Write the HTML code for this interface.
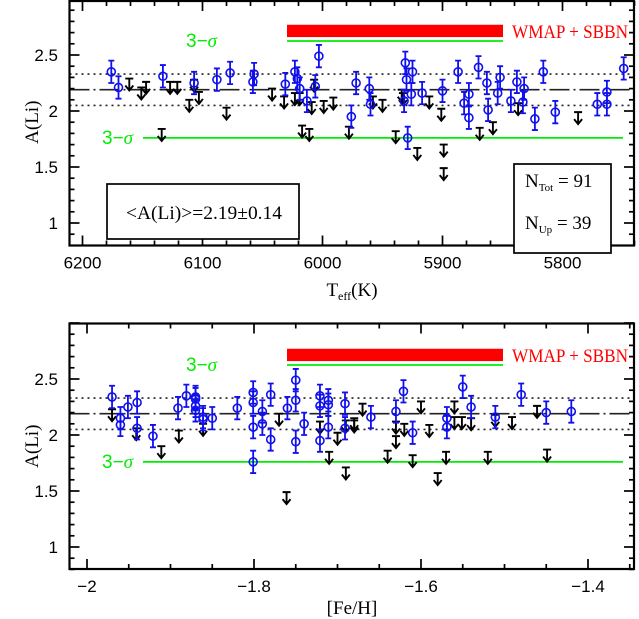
<!DOCTYPE html>
<html><head><meta charset="utf-8">
<style>
html,body{margin:0;padding:0;background:#fff;}
svg{display:block;}
text{font-family:"Liberation Sans",sans-serif;}
.serif{font-family:"Liberation Serif",serif;}
</style></head>
<body>
<svg id="chart" width="639" height="619" viewBox="0 0 639 619" xmlns="http://www.w3.org/2000/svg"></svg>
<script>
// ---- Top panel data (Teff vs A(Li)) ----
const topDetT = [6176,6170,6133,6107,6088,6077,6058,6057,6031,6023,6021,6019,6013,6006,6003,5976,5972,5961,5960,5932,5931,5930,5926,5925,5917,5929,5900,5887,5882,5878,5878,5870,5863,5862,5854,5852,5843,5838,5833,5832,5823,5816,5806,5771,5763,5763,5749];
const topDetA = [2.35,2.21,2.31,2.25,2.28,2.34,2.26,2.33,2.24,2.35,2.29,2.20,2.09,2.22,2.49,1.95,2.25,2.20,2.06,2.09,2.43,2.28,2.15,2.35,2.16,1.76,2.18,2.35,2.07,2.15,1.94,2.39,2.25,2.01,2.16,2.30,2.09,2.26,2.08,2.20,1.93,2.35,1.99,2.06,2.17,2.06,2.38];
const topUlT = [6161,6151,6147,6127,6121,6107,6103,6111,6080,6134,6042,6032,6023,6019,6017,6011,6009,5999,5991,6007,5978,5958,5950,5939,5934,5933,5921,5911,5901,5899,5899,5869,5858,5837,5787];
const topUlA = [2.29,2.21,2.26,2.26,2.26,2.28,2.17,2.10,2.03,1.84,2.20,2.13,2.16,2.16,1.87,1.84,2.08,2.09,2.12,2.28,1.86,2.13,2.10,1.82,2.19,2.16,1.67,2.13,2.02,1.70,1.49,1.85,1.90,2.07,1.99];
const topXTicks = [6200,6100,6000,5900,5800];
// ---- Bottom panel data ([Fe/H] vs A(Li)) ----
const botDetFe = [-1.970,-1.960,-1.960,-1.951,-1.940,-1.940,-1.921,-1.891,-1.881,-1.870,-1.870,-1.870,-1.870,-1.861,-1.861,-1.850,-1.820,-1.801,-1.801,-1.801,-1.801,-1.790,-1.790,-1.780,-1.780,-1.760,-1.750,-1.750,-1.750,-1.740,-1.721,-1.721,-1.721,-1.711,-1.711,-1.711,-1.691,-1.691,-1.660,-1.630,-1.621,-1.610,-1.569,-1.569,-1.550,-1.540,-1.511,-1.480,-1.450,-1.420];
const botDetA = [2.34,2.15,2.09,2.25,2.29,2.06,1.99,2.24,2.35,2.34,2.32,2.26,2.22,2.16,2.14,2.15,2.24,2.38,2.29,2.07,1.76,2.21,2.10,2.36,1.96,2.24,2.49,2.31,1.94,2.10,2.35,2.26,1.95,2.31,2.27,2.07,2.28,2.06,2.16,2.21,2.39,2.02,2.15,2.07,2.43,2.25,2.16,2.36,2.20,2.21];
const botUlFe = [-1.970,-1.941,-1.911,-1.890,-1.861,-1.770,-1.761,-1.721,-1.710,-1.700,-1.690,-1.690,-1.680,-1.680,-1.670,-1.640,-1.630,-1.630,-1.620,-1.610,-1.600,-1.590,-1.580,-1.570,-1.560,-1.560,-1.551,-1.540,-1.520,-1.511,-1.491,-1.461,-1.449];
const botUlA = [2.23,2.06,1.90,2.04,2.10,2.19,1.49,2.12,1.85,2.02,1.71,2.13,2.15,2.13,2.28,1.86,2.12,1.99,2.10,1.82,2.30,2.09,1.66,1.85,2.30,2.16,2.16,2.15,1.85,2.18,2.16,2.26,1.87];
const botXTicks = [-2,-1.8,-1.6,-1.4];
const yTickLabels = [1,1.5,2,2.5];
const meanA = 2.19, sigA = 0.14, errA = 0.1;
const lowSigma = 1.76, wmapLo = 2.66, wmapHi = 2.77, upSigma = 2.625;

const NS = "http://www.w3.org/2000/svg";
const svg = document.getElementById('chart');
function el(tag, attrs, parent, txt){
  const e = document.createElementNS(NS, tag);
  for (const k in attrs) e.setAttribute(k, attrs[k]);
  if (txt !== undefined) e.textContent = txt;
  (parent||svg).appendChild(e);
  return e;
}

const panels = [
  {name:'teff', x0:69.5, x1:634, y0:1, y1:245.5,
   xs: v => 82.5 + (6200 - v)*1.2, ys: a => 223 - (a-1)*112,
   minorStart:6200, minorEnd:5740, minorStep:-20, majorEvery:100,
   ticks: topXTicks, fmt: v => String(v),
   detX: topDetT, detA: topDetA, ulX: topUlT, ulA: topUlA},
  {name:'feh', x0:69.5, x1:634, y0:323.5, y1:569,
   xs: v => 87 + (v + 2)*835, ys: a => 547 - (a-1)*112,
   minorStart:-2, minorEnd:-1.35, minorStep:0.05, majorEvery:0.2,
   ticks: botXTicks, fmt: v => (v<0?'\u2212':'') + Math.abs(v).toString(),
   detX: botDetFe, detA: botDetA, ulX: botUlFe, ulA: botUlA}
];

panels.forEach((p, pi) => {
  const g = el('g', {}, svg);
  
  
  const L = p.x0, R = p.x1, T = p.y0, B = p.y1;
  const gl = el('g', {}, g);
  
  
  const wx = 287;
  const wm = el('rect', {x:wx, y:p.ys(wmapHi), width:216, height:p.ys(wmapLo)-p.ys(wmapHi), fill:'#ff0000'}, gl);
  
  
  const us = el('line', {x1:wx, x2:503, y1:p.ys(upSigma), y2:p.ys(upSigma), stroke:'#00ee00', 'stroke-width':1.8}, gl);
  
  
  const ls = el('line', {x1:143, x2:623, y1:p.ys(lowSigma), y2:p.ys(lowSigma), stroke:'#00ee00', 'stroke-width':1.8}, gl);
  
  
  const mn = el('line', {x1:L, x2:R, y1:p.ys(meanA), y2:p.ys(meanA), stroke:'#222', 'stroke-width':1.6, 'stroke-dasharray':'20 4 2 4'}, gl);
  
  
  [meanA+sigA, meanA-sigA].forEach(v => {
    const d = el('line', {x1:L, x2:R, y1:p.ys(v), y2:p.ys(v), stroke:'#222', 'stroke-width':1.6, 'stroke-dasharray':'2 4'}, gl);
    
    
  });
  const t1 = el('text', {x:186, y:p.ys(upSigma)+6, fill:'#00ee00', 'font-size':19}, gl);
  t1.innerHTML = '3\u2212<tspan font-style="italic" font-family="Liberation Serif, serif">\u03c3</tspan>';
  
  
  const t2 = el('text', {x:102, y:p.ys(lowSigma)+6, fill:'#00ee00', 'font-size':19}, gl);
  t2.innerHTML = '3\u2212<tspan font-style="italic" font-family="Liberation Serif, serif">\u03c3</tspan>';
  
  
  const wt = el('text', {x:512, y:p.ys(2.715)+7, fill:'#ff0000', 'font-size':19, 'class':'serif', textLength:116, lengthAdjust:'spacingAndGlyphs'}, gl, 'WMAP + SBBN');
  
  

  const gu = el('g', {}, g);
  
  
  p.ulX.forEach((v, i) => {
    const x = p.xs(v), y = p.ys(p.ulA[i]);
    const u = el('path', {d:`M${x-4},${y} H${x+4} M${x},${y} V${y+12} M${x-4},${y+7} L${x},${y+12} L${x+4},${y+7}`, stroke:'#000', 'stroke-width':1.9, fill:'none'}, gu);
    
    
  });
  const gd = el('g', {}, g);
  
  
  p.detX.forEach((v, i) => {
    const x = p.xs(v), a = p.detA[i];
    const yT = p.ys(a+errA), yB = p.ys(a-errA), y = p.ys(a);
    const eb = el('path', {d:`M${x},${yT} V${yB} M${x-3},${yT} H${x+3} M${x-3},${yB} H${x+3}`, stroke:'#1010ee', 'stroke-width':1.8, fill:'none'}, gd);
    
    
    const c = el('circle', {cx:x, cy:y, r:4, fill:'none', stroke:'#1010ee', 'stroke-width':1.6}, gd);
    
    
  });

  const fr = el('rect', {x:L, y:T, width:R-L, height:B-T, fill:'none', stroke:'#000', 'stroke-width':2.2}, g);
  
  
  const gy = el('g', {}, g);
  
  
  for (let k = 8; k <= 30; k++) {
    const a = k/10, y = p.ys(a), major = (k % 5 === 0), len = major ? 10 : 5;
    el('line', {x1:L, x2:L+len, y1:y, y2:y, stroke:'#000', 'stroke-width':1.7}, gy);
    el('line', {x1:R-len, x2:R, y1:y, y2:y, stroke:'#000', 'stroke-width':1.7}, gy);
  }
  yTickLabels.forEach(v => {
    const t = el('text', {x:58, y:p.ys(v)+6, 'text-anchor':'end', 'font-size':17}, gy, String(v));
    
    
  });
  const yt = el('text', {x:0, y:0, 'text-anchor':'middle', 'font-size':19, 'class':'serif', transform:`translate(38,${p.ys(1.9)}) rotate(-90)`}, gy, 'A(Li)');
  
  
  const gx = el('g', {}, g);
  
  
  const n = Math.round((p.minorEnd - p.minorStart)/p.minorStep);
  for (let k = 0; k <= n; k++) {
    const v = p.minorStart + k*p.minorStep, x = p.xs(v);
    const r = Math.abs(v/p.majorEvery - Math.round(v/p.majorEvery));
    const len = r < 1e-6 ? 10 : 5;
    el('line', {x1:x, x2:x, y1:B, y2:B-len, stroke:'#000', 'stroke-width':1.7}, gx);
    el('line', {x1:x, x2:x, y1:T, y2:T+len, stroke:'#000', 'stroke-width':1.7}, gx);
  }
  p.ticks.forEach(v => {
    const t = el('text', {x:p.xs(v), y:B+23, 'text-anchor':'middle', 'font-size':17}, gx, p.fmt(v));
    
    
  });
});

const xt1 = el('text', {x:352, y:296, 'text-anchor':'middle', 'font-size':19, 'class':'serif'});
xt1.innerHTML = 'T<tspan font-size="12" dy="4">eff</tspan><tspan dy="-4">(K)</tspan>';


const xt2 = el('text', {x:352, y:614, 'text-anchor':'middle', 'font-size':19, 'class':'serif'}, svg, '[Fe/H]');



const mb = el('g', {});


el('rect', {x:107, y:184, width:192, height:55, fill:'#fff', stroke:'#000', 'stroke-width':1.7}, mb);
el('text', {x:126, y:219, 'font-size':19, 'class':'serif', textLength:156, lengthAdjust:'spacingAndGlyphs'}, mb, '<A(Li)>=2.19\u00b10.14');
const nb = el('g', {});


el('rect', {x:514, y:164, width:97, height:89, fill:'#fff', stroke:'#000', 'stroke-width':1.7}, nb);
const n1 = el('text', {x:525, y:187, 'font-size':19, 'class':'serif'}, nb);
n1.innerHTML = 'N<tspan font-size="11" dy="4">Tot</tspan><tspan dy="-4"> =  91</tspan>';
const n2 = el('text', {x:525, y:229, 'font-size':19, 'class':'serif'}, nb);
n2.innerHTML = 'N<tspan font-size="11" dy="4">Up</tspan><tspan dy="-4">  =  39</tspan>';
</script>
</body></html>
